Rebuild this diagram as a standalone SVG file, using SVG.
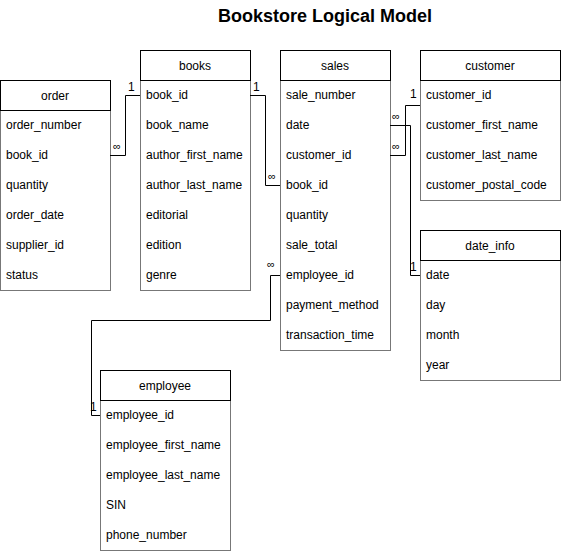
<svg xmlns="http://www.w3.org/2000/svg" width="561" height="551" viewBox="0 0 561 551">
<style>
.hd{fill:#fff;stroke:#000;stroke-width:1}
.bd{fill:#fff;stroke:#777;stroke-width:1}
.t{font-family:"Liberation Sans",Arial,sans-serif;font-size:12px;fill:#000}
.c{text-anchor:middle}
.ln{fill:none;stroke:#000;stroke-width:1}
.lb{font-family:"Liberation Sans",Arial,sans-serif;font-size:11px;fill:#000}
.one{font-family:"Liberation Sans",Arial,sans-serif;font-size:12px;fill:#000}
.ttl{font-family:"Liberation Sans",Arial,sans-serif;font-size:18px;font-weight:bold;fill:#000;text-anchor:middle}
</style>
<rect width="561" height="551" fill="#fff"/>
<text class="ttl" x="325" y="22">Bookstore Logical Model</text>

<g id="order">
<rect class="bd" x="0.5" y="110.5" width="110" height="180"/>
<rect class="hd" x="0.5" y="80.5" width="110" height="30"/>
<text class="t c" x="55" y="100">order</text>
<text class="t" x="6" y="129">order_number</text>
<text class="t" x="6" y="159">book_id</text>
<text class="t" x="6" y="189">quantity</text>
<text class="t" x="6" y="219">order_date</text>
<text class="t" x="6" y="249">supplier_id</text>
<text class="t" x="6" y="279">status</text>
</g>

<g id="books">
<rect class="bd" x="140.5" y="80.5" width="110" height="210"/>
<rect class="hd" x="140.5" y="50.5" width="110" height="30"/>
<text class="t c" x="195" y="70">books</text>
<text class="t" x="146" y="99">book_id</text>
<text class="t" x="146" y="129">book_name</text>
<text class="t" x="146" y="159">author_first_name</text>
<text class="t" x="146" y="189">author_last_name</text>
<text class="t" x="146" y="219">editorial</text>
<text class="t" x="146" y="249">edition</text>
<text class="t" x="146" y="279">genre</text>
</g>

<g id="sales">
<rect class="bd" x="280.5" y="80.5" width="110" height="270"/>
<rect class="hd" x="280.5" y="50.5" width="110" height="30"/>
<text class="t c" x="335" y="70">sales</text>
<text class="t" x="286" y="99">sale_number</text>
<text class="t" x="286" y="129">date</text>
<text class="t" x="286" y="159">customer_id</text>
<text class="t" x="286" y="189">book_id</text>
<text class="t" x="286" y="219">quantity</text>
<text class="t" x="286" y="249">sale_total</text>
<text class="t" x="286" y="279">employee_id</text>
<text class="t" x="286" y="309">payment_method</text>
<text class="t" x="286" y="339">transaction_time</text>
</g>

<g id="customer">
<rect class="bd" x="420.5" y="80.5" width="140" height="120"/>
<rect class="hd" x="420.5" y="50.5" width="140" height="30"/>
<text class="t c" x="490" y="70">customer</text>
<text class="t" x="426" y="99">customer_id</text>
<text class="t" x="426" y="129">customer_first_name</text>
<text class="t" x="426" y="159">customer_last_name</text>
<text class="t" x="426" y="189">customer_postal_code</text>
</g>

<g id="date_info">
<rect class="bd" x="420.5" y="260.5" width="140" height="120"/>
<rect class="hd" x="420.5" y="230.5" width="140" height="30"/>
<text class="t c" x="490" y="250">date_info</text>
<text class="t" x="426" y="279">date</text>
<text class="t" x="426" y="309">day</text>
<text class="t" x="426" y="339">month</text>
<text class="t" x="426" y="369">year</text>
</g>

<g id="employee">
<rect class="bd" x="100.5" y="400.5" width="130" height="150"/>
<rect class="hd" x="100.5" y="370.5" width="130" height="30"/>
<text class="t c" x="165" y="390">employee</text>
<text class="t" x="106" y="419">employee_id</text>
<text class="t" x="106" y="449">employee_first_name</text>
<text class="t" x="106" y="479">employee_last_name</text>
<text class="t" x="106" y="509">SIN</text>
<text class="t" x="106" y="539">phone_number</text>
</g>

<g id="connectors">
<path class="ln" d="M140 95.5H125.5V155.5H110"/>
<text class="one" x="128" y="91">1</text>
<text class="lb" x="113" y="150">∞</text>
<path class="ln" d="M250 95.5H265.5V185.5H280"/>
<text class="one" x="253" y="91">1</text>
<text class="lb" x="268" y="180">∞</text>
<path class="ln" d="M390 155.5H405.5V105.5H420"/>
<text class="one" x="410" y="98">1</text>
<text class="lb" x="392" y="150">∞</text>
<path class="ln" d="M390 125.5H410.5V275.5H420"/>
<text class="one" x="410" y="271">1</text>
<text class="lb" x="392" y="120">∞</text>
<path class="ln" d="M280 275.5H270.5V320.5H91.5V415.5H100"/>
<text class="lb" x="267" y="268">∞</text>
<text class="one" x="90" y="411">1</text>
</g>
</svg>
